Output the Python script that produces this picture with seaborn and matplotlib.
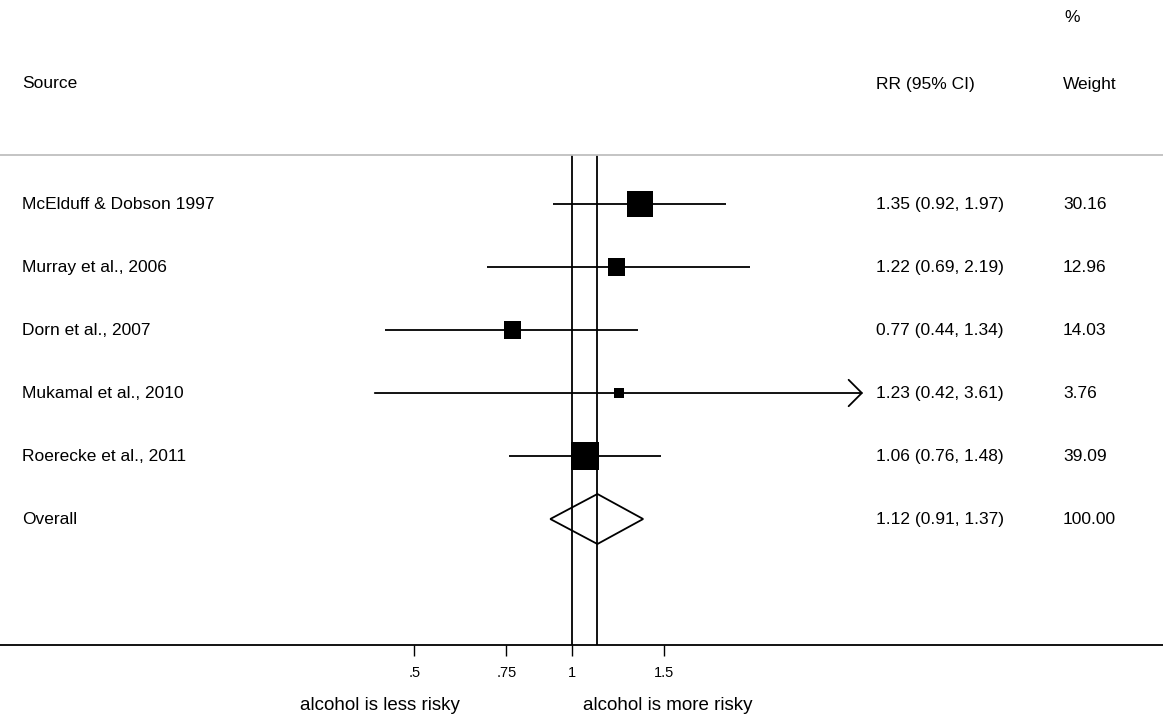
import numpy as np
import seaborn as sns
import matplotlib.pyplot as plt
import matplotlib.transforms as mtransforms

# data
studies = ["McElduff & Dobson 1997", "Murray et al., 2006", "Dorn et al., 2007",
           "Mukamal et al., 2010", "Roerecke et al., 2011"]
rr = [1.35, 1.22, 0.77, 1.23, 1.06]
lo = [0.92, 0.69, 0.44, 0.42, 0.76]
hi = [1.97, 2.19, 1.34, 3.61, 1.48]
weight = [30.16, 12.96, 14.03, 3.76, 39.09]
overall = [1.12, 0.91, 1.37]
overall_weight = 100.00
tick_vals = [0.5, 0.75, 1, 1.5]
tick_labels = [".5", ".75", "1", "1.5"]
arrow_rows = ["Mukamal et al., 2010"]

sns.set_theme(style="white")
plt.rcParams['font.family'] = ['Liberation Sans', 'DejaVu Sans']
plt.rcParams['text.color'] = 'black'
plt.rcParams['xtick.color'] = 'black'
plt.rcParams['xtick.labelcolor'] = 'black'

W, H = 1163, 719
fig = plt.figure(figsize=(W / 100, H / 100), dpi=100)
ax = fig.add_axes([0, (H - 645) / H, 1, (645 - 155) / H])

rows = np.arange(1, len(studies) + 1)
ov_row = len(studies) + 1

# reference lines
ax.axvline(1, color="black", lw=1.3, zorder=1)
ax.axvline(overall[0], color="black", lw=1.3, zorder=1)

# confidence intervals
for i, s in enumerate(studies):
    if s in arrow_rows:
        ax.annotate("", xy=(hi[i], rows[i]), xytext=(lo[i], rows[i]),
                    arrowprops=dict(arrowstyle="->,head_length=0.95,head_width=0.95",
                                    lw=1.3, color="black", shrinkA=0, shrinkB=0,
                                    mutation_scale=10))
    else:
        ax.hlines(rows[i], lo[i], hi[i], color="black", lw=1.3, zorder=2)

# weighted squares
sns.scatterplot(x=rr, y=rows, size=weight, sizes=(11 * min(weight) + 12, 11 * max(weight)),
                marker="s", color="black", linewidth=0, legend=False, ax=ax, zorder=3)

# overall diamond
dh = 0.397
ax.fill([overall[1], overall[0], overall[2], overall[0]],
        [ov_row, ov_row - dh, ov_row, ov_row + dh],
        fill=False, edgecolor="black", lw=1.3, zorder=3)

ax.set_xscale("log")
ax.set_xlim(np.exp(-571.7 / 227), np.exp((W - 571.7) / 227))
ax.set_ylim(8.0, 0.222)
ax.set_xticks(tick_vals)
ax.set_xticklabels(tick_labels)
ax.minorticks_off()
ax.set_yticks([])
ax.tick_params(axis="x", bottom=True, direction="out", length=8, width=1,
               labelsize=10.5, pad=7, colors="black")
for side in ["left", "right"]:
    ax.spines[side].set_visible(False)
ax.spines["bottom"].set_color("black")
ax.spines["bottom"].set_linewidth(1.3)
ax.spines["top"].set_color("#bfbfbf")
ax.spines["top"].set_linewidth(1.3)

# text columns
trans = mtransforms.blended_transform_factory(ax.transAxes, ax.transData)
fs = 12.5
for i, s in enumerate(studies):
    ax.text(22 / W, rows[i], s, transform=trans, fontsize=fs, va="center", ha="left")
    ax.text(876 / W, rows[i], f"{rr[i]:.2f} ({lo[i]:.2f}, {hi[i]:.2f})",
            transform=trans, fontsize=fs, va="center", ha="left")
    ax.text(1063 / W, rows[i], f"{weight[i]:.2f}", transform=trans, fontsize=fs,
            va="center", ha="left")
ax.text(22 / W, ov_row, "Overall", transform=trans, fontsize=fs, va="center", ha="left")
ax.text(876 / W, ov_row, f"{overall[0]:.2f} ({overall[1]:.2f}, {overall[2]:.2f})",
        transform=trans, fontsize=fs, va="center", ha="left")
ax.text(1063 / W, ov_row, f"{overall_weight:.2f}", transform=trans, fontsize=fs,
        va="center", ha="left")

# headers
fig.text(22 / W, 1 - 84 / H, "Source", fontsize=fs, va="center", ha="left")
fig.text(876 / W, 1 - 84 / H, "RR (95% CI)", fontsize=fs, va="center", ha="left")
fig.text(1063 / W, 1 - 84 / H, "Weight", fontsize=fs, va="center", ha="left")
fig.text(1064 / W, 1 - 17 / H, "%", fontsize=fs, va="center", ha="left")

# footer labels
fig.text(380 / W, 1 - 705 / H, "alcohol is less risky", fontsize=13.5, va="center", ha="center")
fig.text(668 / W, 1 - 705 / H, "alcohol is more risky", fontsize=13.5, va="center", ha="center")

fig.savefig("out.png", dpi=100, facecolor="white")
